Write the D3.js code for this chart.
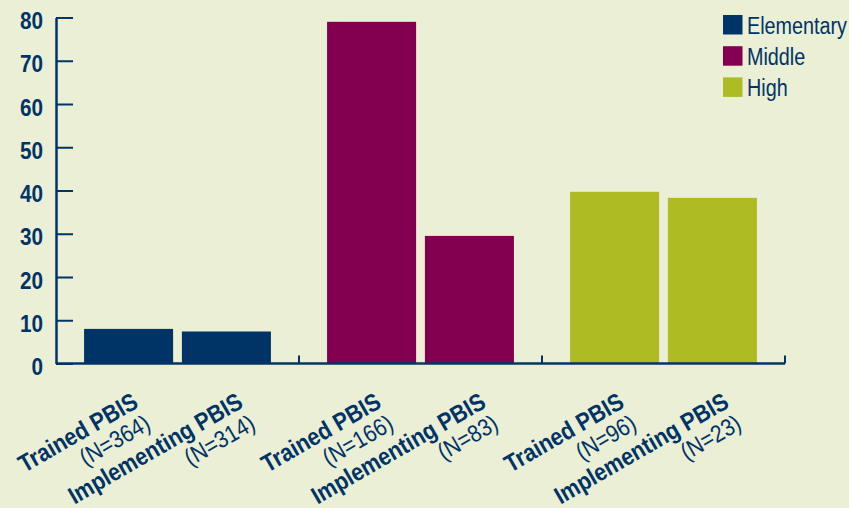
<!DOCTYPE html>
<meta charset="utf-8">
<style>
  body { margin: 0; background: #EBEFD5; }
  text { font-family: "Liberation Sans", Arial, sans-serif; fill: #003466; }
</style>

<!-- Load d3.js -->
<script src="https://d3js.org/d3.v7.min.js"></script>

<div id="chart"></div>

<script>

    // Data
    var groups = ["Elementary", "Middle", "High"];
    var subgroups = ["Trained PBIS", "Implementing PBIS"];
    var trained = [8, 79, 39.7];
    var implementing = [7.4, 29.5, 38.3];
    var trainedN = [364, 166, 96];
    var implementingN = [314, 83, 23];
    var yTicks = [0, 10, 20, 30, 40, 50, 60, 70, 80];

    var colors = {"Elementary": "#003466", "Middle": "#830050", "High": "#AEBB22"};
    var navy = "#003466";

    var W = 849, H = 508;
    var plotLeft = 56, plotRight = 785, plotBottom = 363.5, plotTop = 17.5;

    var svg = d3.select("#chart")
        .append("svg")
            .attr("width", W)
            .attr("height", H);

    svg.append("rect")
        .attr("width", W)
        .attr("height", H)
        .attr("fill", "#EBEFD5");

    // scales
    var y = d3.scaleLinear()
        .domain([0, 80])
        .range([plotBottom, plotTop]);

    var x0 = d3.scaleBand()
        .domain(groups)
        .range([plotLeft, plotRight])
        .padding(0);

    var x1 = d3.scaleBand()
        .domain(subgroups)
        .range([0, x0.bandwidth()])
        .paddingInner(0.09)
        .paddingOuter(0.287);

    // table built from the arrays
    var rows = [];
    groups.forEach(function(g, i) {
        rows.push({group: g, sub: subgroups[0], value: trained[i], n: trainedN[i]});
        rows.push({group: g, sub: subgroups[1], value: implementing[i], n: implementingN[i]});
    });

    // bars
    svg.append("g")
        .selectAll("rect")
        .data(rows)
        .enter()
        .append("rect")
            .attr("x", function(d) { return x0(d.group) + x1(d.sub); })
            .attr("y", function(d) { return y(d.value); })
            .attr("width", x1.bandwidth())
            .attr("height", function(d) { return y(0) - y(d.value); })
            .attr("fill", function(d) { return colors[d.group]; });

    // Y axis, ticks pointing inward
    var yAxis = svg.append("g")
        .attr("transform", "translate(" + plotLeft + ",0)")
        .call(d3.axisLeft(y).tickValues(yTicks).tickSizeInner(-17).tickSizeOuter(0).tickPadding(13));
    yAxis.select(".domain").attr("stroke", navy).attr("stroke-width", 2.5);
    yAxis.selectAll(".tick line").attr("stroke", navy).attr("stroke-width", 2);
    yAxis.selectAll(".tick text")
        .attr("fill", navy)
        .attr("x", null)
        .attr("dy", null)
        .attr("transform", "translate(-13,11) scale(0.9,1)")
        .style("font-size", "23px")
        .style("font-weight", "bold");

    // X axis line with group separators
    svg.append("line")
        .attr("x1", plotLeft)
        .attr("x2", plotRight)
        .attr("y1", y(0))
        .attr("y2", y(0))
        .attr("stroke", navy)
        .attr("stroke-width", 2.5);

    svg.append("g")
        .selectAll("line")
        .data(groups)
        .enter()
        .append("line")
            .attr("x1", function(d) { return x0(d) + x0.bandwidth(); })
            .attr("x2", function(d) { return x0(d) + x0.bandwidth(); })
            .attr("y1", y(0))
            .attr("y2", y(0) - 8)
            .attr("stroke", navy)
            .attr("stroke-width", 2);

    // rotated category labels
    var labels = svg.append("g")
        .selectAll("g")
        .data(rows)
        .enter()
        .append("g")
            .attr("transform", function(d) {
                var cx = x0(d.group) + x1(d.sub) + x1.bandwidth() / 2;
                var dx = d.sub == subgroups[0] ? 11 : 18;
                return "translate(" + (cx + dx) + "," + (y(0) + 43) + ") rotate(-30)";
            });

    labels.append("text")
        .attr("text-anchor", "end")
        .attr("transform", "scale(0.88,1)")
        .style("font-size", "24.5px")
        .style("font-weight", "bold")
        .text(function(d) { return d.sub; });

    labels.append("text")
        .attr("text-anchor", "end")
        .attr("transform", "translate(0,25) scale(0.88,1)")
        .style("font-size", "24px")
        .text(function(d) { return "(N=" + d.n + ")"; });

    // legend
    var legend = svg.append("g")
        .selectAll("g")
        .data(groups)
        .enter()
        .append("g")
            .attr("transform", function(d, i) { return "translate(723," + (15 + i * 31.2) + ")"; });

    legend.append("rect")
        .attr("width", 19.5)
        .attr("height", 19.5)
        .attr("fill", function(d) { return colors[d]; });

    legend.append("text")
        .attr("transform", "translate(24,18.5) scale(0.86,1)")
        .style("font-size", "23px")
        .text(function(d) { return d; });

</script>
